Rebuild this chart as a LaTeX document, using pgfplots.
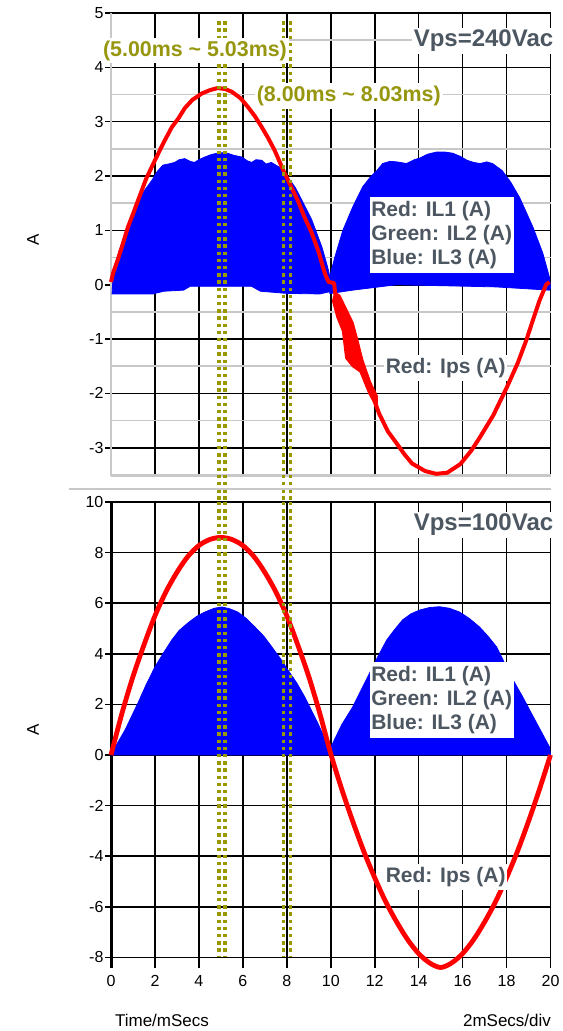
\documentclass[border=0pt]{standalone}
\usepackage{fontspec}
\setmainfont{Liberation Sans}
\usepackage{pgfplots}
\pgfplotsset{compat=1.18}
\definecolor{olivedot}{RGB}{152,152,0}
\definecolor{olivetxt}{RGB}{150,150,15}
\definecolor{lbl}{RGB}{77,87,97}
\definecolor{lgray}{RGB}{200,200,200}
\tikzset{
  ann/.style={fill=white, inner xsep=1pt, inner ysep=1.5pt, font=\fontsize{10.7}{12}\selectfont\bfseries, text=olivetxt},
  vps/.style={fill=white, inner xsep=1pt, inner ysep=1pt, font=\fontsize{12}{14}\selectfont\bfseries, text=lbl},
  lab/.style={fill=white, inner xsep=0.8pt, inner ysep=2pt, font=\fontsize{10.5}{12}\selectfont\bfseries, text=lbl, align=left},
  dotl/.style={olivedot, line width=1.7pt, dash pattern=on 1.7pt off 1.9pt},
}
\pgfplotsset{
  myaxis/.style={
    scale only axis, width=219.75pt, anchor=north west,
    xmin=0, xmax=20, xtick={0,2,...,20},
    tick align=outside, major tick length=3pt, minor tick length=0pt,
    xmajorgrids, ymajorgrids,
    major grid style={black, line width=0.8pt},
    ytick style={black, line width=0.8pt},
    xtick style={draw=none},
    tick label style={font=\fontsize{8}{9.6}\selectfont},
    yticklabel style={inner xsep=0.6pt},
    xticklabel style={inner ysep=0.6pt},
    /pgf/number format/assume math mode=true,
    axis x line*=bottom, axis y line*=left,
    clip=false,
  },
}
\begin{document}
\begin{tikzpicture}
% ---------------- top axis : Vps = 240 Vac ----------------
\begin{axis}[myaxis, at={(55.5pt,-6.5pt)}, height=231.5pt,
  ymin=-3.52, ymax=5, ytick={-3,-2,...,5},
  minor ytick={-3.5,-2.5,...,4.5}, yminorgrids,
  minor grid style={lgray, line width=0.8pt},
  xticklabels={},
  axis line style={lgray, line width=0.9pt, -},
]
% IL1/IL2/IL3 switching envelope, first half cycle
\addplot[draw=blue, fill=blue, line width=0.4pt] coordinates {
(0.05,-0.16) (0.1,0.21) (0.35,0.6) (0.64,0.94) (0.9,1.25) (1.23,1.5) (1.5,1.72) (1.86,1.92)
(2.1,2.08) (2.36,2.2) (2.6,2.22) (2.9,2.25) (3.1,2.3) (3.36,2.32) (3.6,2.27) (3.8,2.25)
(4.0,2.3) (4.27,2.35) (4.6,2.4) (4.86,2.42) (5.1,2.43) (5.3,2.42) (5.6,2.38) (5.95,2.35)
(6.2,2.28) (6.4,2.25) (6.6,2.3) (6.86,2.29) (7.05,2.22) (7.3,2.25) (7.5,2.2) (7.68,2.16)
(8.05,1.98) (8.4,1.78) (8.68,1.56) (9.14,1.19) (9.6,0.69) (9.86,0.32) (10.0,0.08) (10.05,-0.12)
(9.5,-0.17) (8.0,-0.16) (6.8,-0.12) (6.4,-0.03) (3.6,-0.03) (3.3,-0.1) (2.4,-0.12) (1.9,-0.17) (0.05,-0.17)
} -- cycle;
% second half cycle
\addplot[draw=blue, fill=blue, line width=0.4pt] coordinates {
(9.95,-0.16) (9.95,0.14) (10.18,0.5) (10.55,1.0) (11.0,1.43) (11.45,1.8) (11.8,1.98) (12.1,2.1)
(12.36,2.23) (12.7,2.27) (13.0,2.26) (13.45,2.23) (13.8,2.3) (14.05,2.33) (14.4,2.4) (14.8,2.44)
(15.2,2.44) (15.55,2.42) (15.9,2.36) (16.2,2.29) (16.5,2.25) (16.8,2.23) (17.1,2.26) (17.36,2.23)
(17.8,2.1) (18.2,1.88) (18.6,1.6) (19.2,1.06) (19.65,0.58) (19.95,0.14) (20,-0.05)
(19.95,-0.1) (17.5,-0.04) (13.0,0.0) (12.0,-0.05) (11.0,-0.1) (10.0,-0.16)
} -- cycle;
% Ips noisy band
\addplot[draw=red, fill=red, line width=1pt, line join=round] coordinates {
(10.2,-0.15) (10.1,-0.3) (10.3,-0.6) (10.55,-0.85) (10.7,-1.35) (11.0,-1.5) (11.35,-1.6) (11.75,-2.0) (12.1,-2.25)
(12.1,-2.05) (11.8,-1.8) (11.45,-1.4) (11.2,-1.0) (11.0,-0.7) (10.7,-0.45) (10.4,-0.2)
} -- cycle;
% Ips
\addplot[red, line width=2pt, line join=round] coordinates {
(0.0,0.05) (0.1,0.22) (0.3,0.45) (0.5,0.7) (0.77,1.06) (1.0,1.3) (1.23,1.55) (1.6,1.95) (2.0,2.29)
(2.4,2.62) (2.77,2.9) (3.05,3.05) (3.36,3.25) (3.7,3.4) (4.14,3.52) (4.5,3.58) (4.86,3.62) (5.2,3.6)
(5.5,3.55) (5.9,3.43) (6.23,3.27) (6.55,3.1) (6.86,2.9) (7.15,2.7) (7.45,2.47) (7.9,2.05) (8.2,1.8)
(8.5,1.55) (8.8,1.25) (9.14,0.95) (9.45,0.6) (9.73,0.21) (9.9,0.05) (10.15,0.03) (10.2,-0.15)
(10.4,-0.4) (10.7,-0.8) (11.0,-1.1) (11.5,-1.6) (12.0,-2.15) (12.2,-2.37) (12.6,-2.7) (13.0,-2.92)
(13.35,-3.12) (13.7,-3.29) (14.3,-3.43) (14.8,-3.48) (15.3,-3.46) (15.9,-3.3) (16.4,-3.05) (16.8,-2.8)
(17.4,-2.4) (18.0,-1.9) (18.5,-1.45) (18.9,-1.02) (19.2,-0.65) (19.5,-0.29) (19.8,0.0) (19.95,0.05)
};
% cursor lines
\addplot[dotl] coordinates {(4.91,4.85) (4.91,-4.0)};
\addplot[dotl] coordinates {(5.18,4.85) (5.18,-4.0)};
\addplot[dotl] coordinates {(7.86,4.85) (7.86,-4.0)};
\addplot[dotl] coordinates {(8.17,4.85) (8.17,-4.0)};
\node[ann] at (axis cs:3.82,4.31) {(5.00ms \textasciitilde{} 5.03ms)};
\node[ann] at (axis cs:10.82,3.47) {(8.00ms \textasciitilde{} 8.03ms)};
\node[vps] at (axis cs:16.95,4.49) {Vps=240Vac};
\node[lab] at (axis cs:15.05,0.91) {Red: IL1 (A)\\Green: IL2 (A)\\Blue: IL3 (A)};
\node[lab, inner ysep=1.5pt] at (axis cs:15.23,-1.53) {Red: Ips (A)};
\end{axis}
% ---------------- bottom axis : Vps = 100 Vac ----------------
\begin{axis}[myaxis, at={(55.5pt,-251pt)}, height=233pt,
  ymin=-8.42, ymax=10, ytick={-8,-6,...,10},
  axis line style={-},
  x axis line style={draw=none},
  y axis line style={black, line width=1.5pt},
]
\addplot[draw=blue, fill=blue, line width=0.4pt] coordinates {
(0.0,0) (0.05,0.1) (0.64,0.99) (1.23,2.06) (1.6,2.78) (2.0,3.48) (2.4,4.05) (2.77,4.55) (3.1,4.92)
(3.5,5.22) (3.9,5.48) (4.27,5.65) (4.7,5.8) (5.05,5.85) (5.4,5.78) (5.77,5.65) (6.15,5.4) (6.55,5.06)
(6.95,4.7) (7.32,4.27) (7.7,3.82) (8.05,3.36) (8.45,2.85) (8.82,2.29) (9.1,1.8) (9.41,1.26) (9.65,0.8)
(9.86,0.28) (9.95,0)
} -- cycle;
\addplot[draw=blue, fill=blue, line width=0.4pt] coordinates {
(10.0,0) (10.0,0.3) (10.5,1.2) (11.0,1.9) (11.4,2.6) (11.77,3.24) (12.15,3.9) (12.55,4.55) (12.9,4.95)
(13.27,5.34) (13.65,5.58) (14.05,5.73) (14.5,5.83) (14.95,5.86) (15.4,5.8) (15.86,5.65) (16.3,5.4)
(16.77,5.06) (17.15,4.7) (17.55,4.27) (17.9,3.65) (18.3,2.96) (18.7,2.35) (19.05,1.78) (19.5,1.05)
(19.95,0.32) (20,0)
} -- cycle;
\addplot[red, line width=2.4pt, line join=round, smooth, tension=0.5] coordinates {
(0,0) (0.5,1.65) (1.0,3.1) (1.5,4.35) (2.0,5.5) (2.5,6.45) (3.0,7.22) (3.5,7.85) (4.0,8.28) (4.5,8.52)
(5.0,8.6) (5.5,8.52) (6.0,8.28) (6.5,7.85) (7.0,7.22) (7.5,6.45) (8.0,5.5) (8.5,4.35) (9.0,3.1) (9.5,1.65)
(10.0,0.05) (10.5,-1.35) (11.0,-2.62) (11.5,-3.8) (12.0,-4.85) (12.5,-5.8) (13.0,-6.6) (13.5,-7.3)
(14.0,-7.85) (14.5,-8.22) (15.0,-8.4) (15.5,-8.22) (16.0,-7.85) (16.5,-7.3) (17.0,-6.6) (17.5,-5.8)
(18.0,-4.85) (18.5,-3.8) (19.0,-2.62) (19.5,-1.35) (20.0,0)
};
\addplot[dotl] coordinates {(4.91,10) (4.91,-8)};
\addplot[dotl] coordinates {(5.18,10) (5.18,-8)};
\addplot[dotl] coordinates {(7.86,10) (7.86,-8)};
\addplot[dotl] coordinates {(8.17,10) (8.17,-8)};
\node[vps] at (axis cs:16.95,9.1) {Vps=100Vac};
\node[lab] at (axis cs:15.05,2.17) {Red: IL1 (A)\\Green: IL2 (A)\\Blue: IL3 (A)};
\node[lab, inner ysep=1.5pt] at (axis cs:15.23,-4.82) {Red: Ips (A)};
\end{axis}
\draw[lgray, line width=0.8pt] (34.5pt,-244.5pt) -- (275.5pt,-244.5pt);
\node[rotate=90, font=\fontsize{8.5}{10}\selectfont] at (16.5pt,-120pt) {A};
\node[rotate=90, font=\fontsize{8.5}{10}\selectfont] at (16.5pt,-365pt) {A};
\node[font=\fontsize{8.5}{10}\selectfont] at (81pt,-510pt) {Time/mSecs};
\node[font=\fontsize{8.5}{10}\selectfont] at (253.5pt,-510pt) {2mSecs/div};
\pgfresetboundingbox
\path (0pt,0pt) rectangle (281pt,-515.5pt);
\end{tikzpicture}
\end{document}
